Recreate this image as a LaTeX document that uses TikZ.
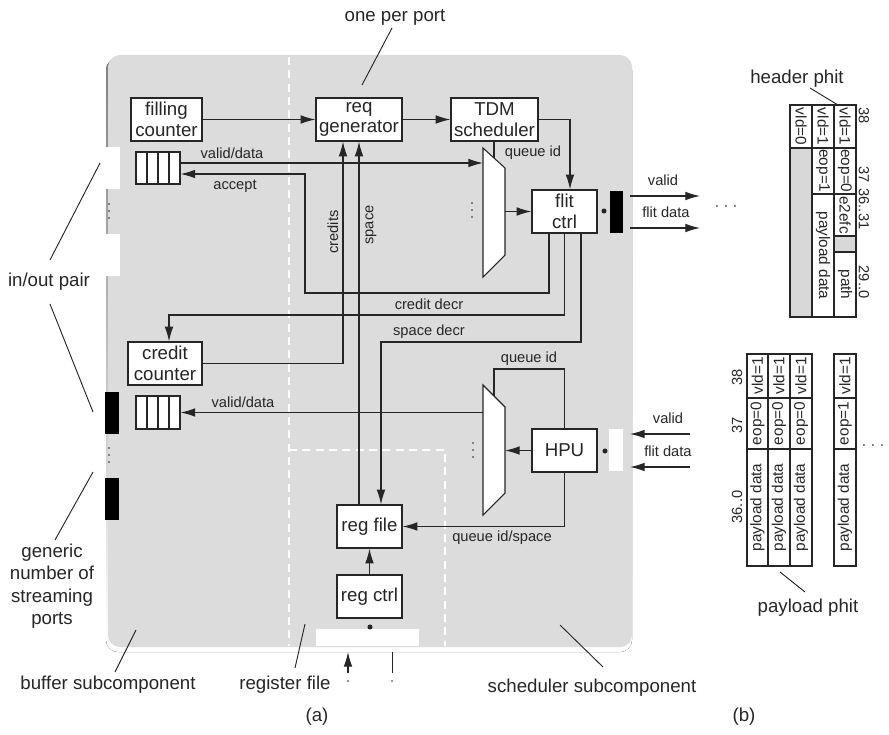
\documentclass[tikz,border=0pt]{standalone}
\usepackage{fontspec}
\setmainfont{Liberation Sans}
\usetikzlibrary{arrows.meta,calc}
\definecolor{panel}{HTML}{DCDCDC}
\definecolor{shade}{HTML}{BCBCBC}
\definecolor{ink}{HTML}{262626}
\definecolor{cellgray}{HTML}{D8D8D8}
\begin{document}
\begin{tikzpicture}[x=0.75pt,y=-0.75pt,
  blk/.style={draw=ink,fill=white,line width=1pt,inner sep=0pt,align=center,minimum height=32.25pt,font=\fontsize{14}{15.5}\selectfont,text=ink},
  small/.style={font=\fontsize{11}{13}\selectfont,inner sep=0pt,text=ink},
  big/.style={font=\fontsize{14}{16.9}\selectfont,inner sep=0pt,align=center,text=ink},
  wire/.style={draw=ink,line width=0.85pt},
  arr/.style={wire,-{Latex[length=11pt,width=6.5pt]}},
  lead/.style={draw=ink,line width=0.7pt},
  cell/.style={draw=ink,line width=0.8pt},
  ctext/.style={font=\fontsize{11.5}{13}\selectfont,inner sep=0pt,text=ink},
  wdash/.style={draw=white,line width=1pt,dash pattern=on 6pt off 4pt},
  pin/.style={inner sep=0pt,minimum width=11pt,minimum height=31.5pt},
]
\useasboundingbox (0,0) rectangle (889,735);

% panel
\fill[shade,rounded corners=9pt] (106,58) rectangle (632,652);
\fill[panel,rounded corners=9pt] (108,55) rectangle (632,647);
\draw[wdash] (289,57) -- (289,646);
\draw[wdash] (289,450) -- (445,450) -- (445,646);

% ports
\node[pin,fill=white] (pinA) at (112.5,168) {};
\node[pin,fill=white] (pinB) at (112.5,254.5) {};
\node[pin,fill=black] (pinC) at (112,412.5) {};
\node[pin,fill=black] (pinD) at (112,499) {};
\node[pin,fill=black,minimum width=9.75pt] (pinE) at (616.5,211.5) {};
\node[pin,fill=white,minimum width=10.5pt] (pinF) at (616,450) {};
\node[inner sep=0pt,fill=white,minimum width=77.25pt,minimum height=12.75pt] (pinG) at (367.5,637.5) {};

\foreach \yy in {204,211,218} \fill[ink] (109,\yy) circle[radius=0.7pt];
\foreach \yy in {448,455,462} \fill[ink] (109,\yy) circle[radius=0.7pt];
\foreach \yy in {203,210,217} \fill[ink] (472,\yy) circle[radius=0.7pt];
\foreach \yy in {443,450,457} \fill[ink] (473,\yy) circle[radius=0.7pt];

% blocks
\node[blk,minimum width=53.25pt] (fc) at (166.5,119.5) {filling\\counter};
\node[blk,minimum width=64.5pt] (rg) at (359,119.5) {req\\generator};
\node[blk,minimum width=65.25pt] (tdm) at (494.5,119.5) {TDM\\scheduler};
\node[blk,minimum width=48.75pt] (fl) at (564.5,211.5) {flit\\ctrl};
\node[blk,minimum width=55.5pt] (cc) at (165,363.5) {credit\\counter};
\node[blk,minimum width=48.75pt] (hpu) at (564.5,450.5) {HPU};
\node[blk,minimum width=48.75pt] (rf) at (369.5,526.5) {reg file};
\node[blk,minimum width=48.75pt] (rc) at (369.5,596.5) {reg ctrl};

% queues
\node[draw=ink,line width=0.8pt,fill=white,inner sep=0pt,minimum width=33pt,minimum height=24pt] (q1) at (158,168) {};
\node[draw=ink,line width=0.8pt,fill=white,inner sep=0pt,minimum width=33pt,minimum height=24.75pt] (q2) at (158,412.5) {};
\foreach \xx in {147,158,169} {
  \draw[cell] (\xx,152) -- (\xx,184);
  \draw[cell] (\xx,396) -- (\xx,429);
}

% muxes
\draw[cell,fill=white] (483,148) -- (505,168) -- (505,255) -- (483,277) -- cycle;
\draw[cell,fill=white] (483,385) -- (505,407) -- (505,493) -- (483,515) -- cycle;
\coordinate (m1q) at (494,158);
\coordinate (m1a) at (483,163);
\coordinate (m1o) at (505,211.5);
\coordinate (m2q) at (494,396);
\coordinate (m2o) at (483,412.5);
\coordinate (m2i) at (505,450.5);

% dots next to ports
\fill[ink] (604,211) circle[radius=1.9pt];
\fill[ink] (605,451) circle[radius=1.9pt];
\fill[ink] (370,627) circle[radius=1.9pt];

% connectors
\draw[arr] (fc.east) -- (rg.west);
\draw[arr] (rg.east) -- (tdm.west);
\draw[arr] (tdm.east) -| ($(fl.north)+(5.5,0)$);
\draw[wire] (tdm.south -| m1q) -- (m1q);
\draw[arr] ($(q1.east)+(0,-5)$) -- (m1a);
\draw[arr] (m1o) -- (fl.west);
\draw[arr] ($(fl.south)+(-15.5,0)$) |- (305,293) |- ($(q1.east)+(0,6)$);
\draw[arr] (fl.south) |- (169,315) -- ($(cc.north)+(4,0)$);
\draw[arr] ($(fl.south)+(16.5,0)$) |- (381,342) -- ($(rf.north)+(11.5,0)$);
\draw[arr] ($(rf.north)+(-10.5,0)$) -- (rg.south);
\draw[arr] (cc.east) -| ($(rg.south)+(-16,0)$);
\draw[arr] (m2o) -- (q2.east);
\draw[arr] (hpu.west) -- (m2i);
\draw[wire] (hpu.north) |- (494,369) -- (m2q);
\draw[arr] (hpu.south) |- (rf.east);
\draw[arr] (rc.north) -- (rf.south);

\coordinate (o1) at (630,196); \coordinate (o1e) at (700,196);
\coordinate (o2) at (630,228); \coordinate (o2e) at (700,228);
\draw[arr] (o1) -- (o1e);
\draw[arr] (o2) -- (o2e);
\coordinate (i1) at (690,434); \coordinate (i1e) at (630,434);
\coordinate (i2) at (690,467); \coordinate (i2e) at (630,467);
\draw[arr] (i1) -- (i1e);
\draw[arr] (i2) -- (i2e);

\coordinate (b1) at (348,673); \coordinate (b1e) at (348,652);
\draw[arr] (b1) -- (b1e);
\coordinate (b2) at (392,652); \coordinate (b2e) at (392,673);
\draw[wire,line width=0.6pt] (b2) -- (b2e);
\fill[ink] (348,681) circle[radius=0.7pt];
\fill[ink] (392,681) circle[radius=0.7pt];

% wire labels
\node[small] (l1) at (232,153) {valid/data};
\node[small] (l2) at (235,186) {accept};
\node[small,rotate=90] (l3) at (333,232) {credits};
\node[small,rotate=90] (l4) at (371,225) {space};
\node[small] (l5) at (429,304) {credit decr};
\node[small] (l6) at (429,332) {space decr};
\node[small] (l7) at (533,153) {queue id};
\node[small] (l8) at (663,180) {valid};
\node[small] (l9) at (666,212) {flit data};
\node[small] (l10) at (243,402) {valid/data};
\node[small] (l11) at (529,359) {queue id};
\node[small] (l12) at (502,538) {queue id/space};
\node[small] (l13) at (668,418) {valid};
\node[small] (l14) at (668,451) {flit data};
\node[small] (d1) at (726,208) {· · ·};
\node[small] (d2) at (873,447) {· · ·};

% callouts
\node[big] (t1) at (395,17) {one per port};
\draw[lead] (392,28) -- (362,85);
\node[big] (t2) at (49,282) {in/out pair};
\draw[lead] (50,260) -- (100,163);
\draw[lead] (50,304) -- (93,412);
\node[big] (t3) at (52,586) {generic\\number of\\streaming\\ports};
\draw[lead] (55,540) -- (93,472);
\node[big] (t4) at (108,685) {buffer subcomponent};
\draw[lead] (115,672) -- (136,630);
\node[big] (t5) at (285,685) {register file};
\draw[lead] (295,668) -- (305,624);
\node[big] (t6) at (592,688) {scheduler subcomponent};
\draw[lead] (603,667) -- (560,625);
\node[big] (t7) at (317,717) {(a)};
\node[big] (t8) at (744,717) {(b)};
\node[big] (t9) at (797,79) {header phit};
\draw[lead] (810,88) -- (838,105);
\node[big] (t10) at (808,608) {payload phit};
\draw[lead] (780,572) -- (805,592);

% header phit table
\filldraw[cell,fill=cellgray] (790,148) rectangle (812,317);
\draw[cell] (790,105) rectangle (812,148);
\draw[cell] (812,105) rectangle (834,148);
\draw[cell] (812,148) rectangle (834,194);
\draw[cell] (812,194) rectangle (834,317);
\draw[cell] (834,105) rectangle (856,148);
\draw[cell] (834,148) rectangle (856,194);
\draw[cell] (834,194) rectangle (856,236);
\filldraw[cell,fill=cellgray] (834,236) rectangle (856,252);
\draw[cell] (834,252) rectangle (856,317);
\node[ctext,rotate=-90] (h1) at (801,126.5) {vld=0};
\node[ctext,rotate=-90] (h2) at (823,126.5) {vld=1};
\node[ctext,rotate=-90] (h3) at (845,126.5) {vld=1};
\node[ctext,rotate=-90] (h4) at (823,171) {eop=1};
\node[ctext,rotate=-90] (h5) at (845,171) {eop=0};
\node[ctext,rotate=-90] (h6) at (823,255.5) {payload data};
\node[ctext,rotate=-90] (h7) at (845,215) {e2efc};
\node[ctext,rotate=-90] (h8) at (845,284.5) {path};
\node[small,rotate=-90] (hb1) at (864,116) {38};
\node[small,rotate=-90] (hb2) at (864,175) {37};
\node[small,rotate=-90] (hb3) at (864,209) {36..31};
\node[small,rotate=-90] (hb4) at (864,282) {29..0};

% payload phit tables
\foreach \xa/\xb/\eo [count=\i] in {747/768/0,768/790/0,790/812/0,834/856/1} {
  \draw[cell] (\xa,354) rectangle (\xb,398);
  \draw[cell] (\xa,398) rectangle (\xb,449);
  \draw[cell] (\xa,449) rectangle (\xb,566);
  \node[ctext,rotate=90] (pv\i) at ({(\xa+\xb)/2},376) {vld=1};
  \node[ctext,rotate=90] (pe\i) at ({(\xa+\xb)/2},423.5) {eop=\eo};
  \node[ctext,rotate=90] (pd\i) at ({(\xa+\xb)/2},507.5) {payload data};
}
\node[small,rotate=90] (pb1) at (737,377) {38};
\node[small,rotate=90] (pb2) at (737,425) {37};
\node[small,rotate=90] (pb3) at (737,507) {36..0};
\end{tikzpicture}
\end{document}
